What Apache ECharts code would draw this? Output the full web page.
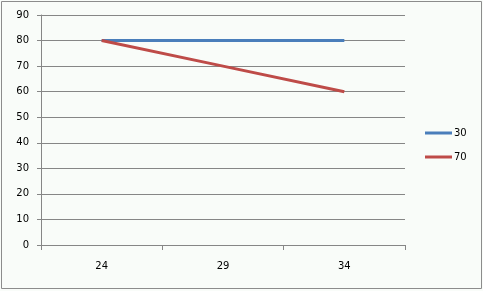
<!DOCTYPE html>
<html><head><meta charset="utf-8">
<script src="https://cdn.jsdelivr.net/npm/echarts@6/dist/echarts.min.js"></script>
<style>html,body{margin:0;padding:0;background:#f9fcf9;}#c{width:483px;height:291px;}</style>
</head><body><div id="c"></div>
<script>
const categories = ['24', '29', '34'];
const seriesNames = ['30', '70'];
const values30 = [80, 80, 80];
const values70 = [80, 70, 60];
const yTicks = [0, 90, 10]; // min, max, interval

const chart = echarts.init(document.getElementById('c'), null, {renderer: 'canvas'});
const font = {fontFamily: 'DejaVu Sans', fontSize: 10, color: '#000'};
chart.setOption({
  backgroundColor: '#f9fcf9',
  animation: false,
  graphic: [{type: 'rect', shape: {x: 1.5, y: 1.5, width: 480, height: 287}, style: {fill: 'none', stroke: '#8c8c8c', lineWidth: 1}, silent: true}],
  grid: {left: 41, right: 78, top: 15, bottom: 46, containLabel: false},
  legend: {
    orient: 'vertical', left: 420, top: 123, itemWidth: 27, itemHeight: 12, itemGap: 14,
    textStyle: Object.assign({padding: [0, 0, 0, -3]}, font),
    data: seriesNames.map((n) => ({name: n, icon: 'path://M0,0L27,0L27,3L0,3Z'}))
  },
  xAxis: {
    type: 'category', data: categories, boundaryGap: true,
    axisLine: {lineStyle: {color: '#868686', width: 1}},
    axisTick: {show: true, length: 5, lineStyle: {color: '#868686'}},
    axisLabel: Object.assign({margin: 16}, font),
    splitLine: {show: false}
  },
  yAxis: {
    type: 'value', min: yTicks[0], max: yTicks[1], interval: yTicks[2],
    axisLine: {show: true, lineStyle: {color: '#868686', width: 1}},
    axisTick: {show: true, length: 4, lineStyle: {color: '#868686'}},
    axisLabel: Object.assign({margin: 12}, font),
    splitLine: {show: true, lineStyle: {color: '#868686', width: 1}}
  },
  series: [
    {name: seriesNames[0], type: 'line', data: values30, symbol: 'none', lineStyle: {color: '#4a7ebb', width: 3}, itemStyle: {color: '#4a7ebb'}},
    {name: seriesNames[1], type: 'line', data: values70, symbol: 'none', lineStyle: {color: '#be4b48', width: 3}, itemStyle: {color: '#be4b48'}}
  ]
});
</script></body></html>
